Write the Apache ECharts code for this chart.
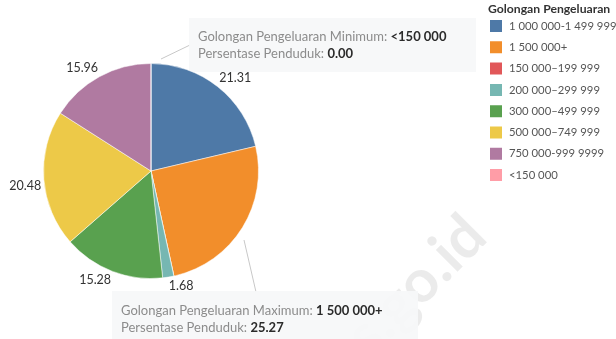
<!DOCTYPE html>
<html>
<head>
<meta charset="utf-8">
<script src="https://cdn.jsdelivr.net/npm/echarts@6/dist/echarts.min.js"></script>
<style>
  html, body { margin: 0; padding: 0; background: #fff; }
  #chart { width: 616px; height: 339px; }
</style>
</head>
<body>
<div id="chart"></div>
<script>
// Expenditure groups and the share of population in each (percent)
const categories = [
  '1 000 000-1 499 999',
  '1 500 000+',
  '150 000–199 999',
  '200 000–299 999',
  '300 000–499 999',
  '500 000–749 999',
  '750 000-999 9999',
  '<150 000'
];
const shares = [21.31, 25.27, 0, 1.68, 15.28, 20.48, 15.96, 0];
const colors = ['#4e79a7', '#f28e2b', '#e15759', '#76b7b2', '#59a14f', '#edc948', '#b07aa1', '#ff9da7'];
const legendTitle = 'Golongan Pengeluaran';

// Annotated groups: the last smallest share and the largest share
const minShare = Math.min(...shares);
const minIdx = shares.lastIndexOf(minShare);
const maxIdx = shares.indexOf(Math.max(...shares));
const FONT = 'Lato, "Noto Sans", sans-serif';

// pie geometry
const CX = 151, CY = 171, R = 107.5, LABEL_GAP = 2.5;
const total = shares.reduce((a, b) => a + b, 0);
// mid-angle direction of each slice (clockwise from 12 o'clock)
const midDir = (() => {
  let acc = 0;
  return shares.map(v => {
    const a = (acc + v / 2) / total * 2 * Math.PI;
    acc += v;
    return [Math.sin(a), -Math.cos(a)];
  });
})();

const chart = echarts.init(document.getElementById('chart'), null, { renderer: 'canvas' });

function noteText(kind, idx) {
  return [
    '{k|Golongan Pengeluaran ' + kind + ': }{v|' + categories[idx] + '}',
    '{k|Persentase Penduduk: }{v|' + shares[idx].toFixed(2) + '}'
  ].join('\n');
}
const noteRich = {
  k: { fontFamily: FONT, fontSize: 13, fill: '#8c8c8c', lineHeight: 17 },
  v: { fontFamily: FONT, fontSize: 13, fill: '#2b2b2b', fontWeight: 'bold', lineHeight: 17 }
};

chart.setOption({
  animation: false,
  color: colors,
  legend: {
    orient: 'vertical',
    left: 488,
    top: 18,
    padding: 0,
    itemWidth: 14,
    itemHeight: 14,
    itemGap: 5.3,
    icon: 'rect',
    selectedMode: false,
    textStyle: { fontFamily: FONT, fontSize: 11.3, color: '#555', padding: [0, 0, 0, 1] },
    data: categories
  },
  graphic: [
    // watermark
    {
      type: 'text', z: 0, silent: true,
      x: 476, y: 226, rotation: Math.PI / 4,
      style: {
        text: 'bps.go.id', fontFamily: FONT, fontSize: 60, fontWeight: 'bold',
        fill: 'rgba(0,0,0,0.08)', align: 'right', verticalAlign: 'middle'
      }
    },
    {
      type: 'text', left: 488, top: 3,
      style: { text: legendTitle, fontFamily: FONT, fontSize: 12.2, fontWeight: 'bold', fill: '#333' }
    },
    // annotation: minimum
    { type: 'line', shape: { x1: 161, y1: 59, x2: 190, y2: 45 }, style: { stroke: '#c8c8c8', lineWidth: 1 } },
    { type: 'rect', shape: { x: 189, y: 18, width: 287, height: 54 }, style: { fill: 'rgba(246,247,249,0.92)' } },
    {
      type: 'text', x: 198, y: 28,
      style: { text: noteText('Minimum', minIdx), rich: noteRich, fontFamily: FONT }
    },
    // annotation: maximum
    { type: 'line', shape: { x1: 244, y1: 240, x2: 256, y2: 292 }, style: { stroke: '#c8c8c8', lineWidth: 1 } },
    { type: 'rect', shape: { x: 112, y: 291, width: 306, height: 52 }, style: { fill: 'rgba(246,247,249,0.92)' } },
    {
      type: 'text', x: 121, y: 302,
      style: { text: noteText('Maximum', maxIdx), rich: noteRich, fontFamily: FONT }
    }
  ],
  series: [{
    type: 'pie',
    center: [CX, CY],
    radius: R,
    startAngle: 90,
    clockwise: true,
    avoidLabelOverlap: false,
    itemStyle: { borderColor: '#fff', borderWidth: 0.5 },
    label: {
      show: true,
      position: 'outside',
      fontFamily: FONT,
      fontSize: 12.5,
      lineHeight: 13,
      color: '#333',
      formatter: p => (p.value > 0 && p.dataIndex !== maxIdx) ? p.value.toFixed(2) : ''
    },
    labelLine: { show: false, length: 4, length2: 0 },
    // put the label's nearest corner just outside the rim, on the slice's mid-angle
    labelLayout: p => {
      const [ux, uy] = midDir[p.dataIndex];
      return {
        x: CX + ux * (R + LABEL_GAP),
        y: CY + uy * (R + LABEL_GAP),
        align: ux >= 0 ? 'left' : 'right',
        verticalAlign: uy >= 0 ? 'top' : 'bottom'
      };
    },
    emphasis: { disabled: true },
    data: categories.map((c, i) => ({ name: c, value: shares[i] }))
  }]
});
</script>
</body>
</html>
